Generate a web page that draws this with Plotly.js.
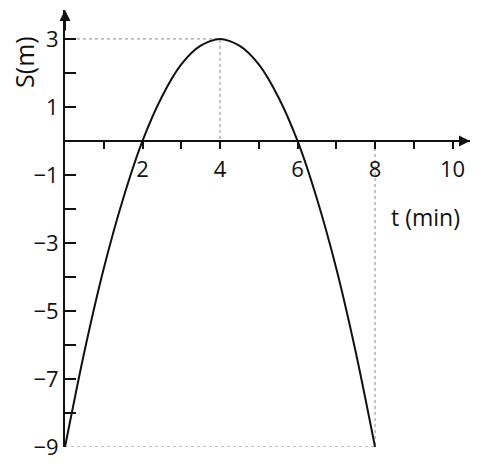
<!DOCTYPE html>
<html>
<head>
<meta charset="utf-8">
<script src="https://cdn.plot.ly/plotly-3.0.1.min.js"></script>
<style>
  body { margin: 0; background: #fff; }
  #chart { width: 500px; height: 467px; }
</style>
</head>
<body>
<div id="chart"></div>
<script>
// values, every half minute
const tValues = [0, 0.5, 1, 1.5, 2, 2.5, 3, 3.5, 4, 4.5, 5, 5.5, 6, 6.5, 7, 7.5, 8];
const sValues = [-9, -6.2, -3.75, -1.7, 0, 1.3, 2.25, 2.8, 3, 2.8, 2.25, 1.3, 0, -1.7, -3.75, -6.2, -9];

const peak = { t: 4, s: 3 };
const endPoint = { t: 8, s: -9 };

const xTicks = [1, 2, 3, 4, 5, 6, 7, 8, 9, 10];
const xTickText = ['', '2', '', '4', '', '6', '', '8', '', '10'];
const yTicks = [-9, -8, -7, -6, -5, -4, -3, -2, -1, 1, 2, 3];
const yTickText = ['\u22129', '', '\u22127', '', '\u22125', '', '\u22123', '', '\u22121', '1', '', '3'];

const xRange = [0, 10.45];
const yRange = [-9, 3.85];

const font = 'Open Sans, Noto Sans, DejaVu Sans, sans-serif';

const guide = {
  mode: 'lines',
  line: { color: '#888', width: 1, dash: 'dot' },
  hoverinfo: 'skip',
  cliponaxis: false,
};

const data = [
  Object.assign({}, guide, {
    x: [0, peak.t, peak.t],
    y: [peak.s, peak.s, 0],
  }),
  Object.assign({}, guide, {
    x: [0, endPoint.t, endPoint.t],
    y: [endPoint.s, endPoint.s, 0],
  }),
  {
    x: tValues,
    y: sValues,
    mode: 'lines',
    line: { color: '#111', width: 2, shape: 'spline', smoothing: 0.8 },
    cliponaxis: false,
  },
];

const layout = {
  width: 500,
  height: 467,
  margin: { l: 65, r: 30, t: 10, b: 20 },
  showlegend: false,
  paper_bgcolor: '#fff',
  plot_bgcolor: '#fff',
  font: { family: font, size: 22, color: '#111' },
  xaxis: {
    range: xRange,
    anchor: 'free',
    position: (0 - yRange[0]) / (yRange[1] - yRange[0]),
    showgrid: false,
    zeroline: false,
    showline: true,
    linecolor: '#111',
    linewidth: 2,
    ticks: 'outside',
    ticklen: 7,
    tickwidth: 2,
    tickcolor: '#111',
    tickmode: 'array',
    tickvals: xTicks,
    ticktext: xTickText,
    ticklabelstandoff: 2,
    automargin: false,
  },
  yaxis: {
    range: yRange,
    showgrid: false,
    zeroline: false,
    showline: true,
    linecolor: '#111',
    linewidth: 2,
    ticks: 'inside',
    ticklen: 11,
    tickwidth: 2,
    tickcolor: '#111',
    tickmode: 'array',
    tickvals: yTicks,
    ticktext: yTickText,
    automargin: false,
  },
  annotations: [
    {
      xref: 'x', yref: 'y', x: xRange[1], y: 0,
      ax: -22, ay: 0, text: '', showarrow: true,
      arrowhead: 2, arrowsize: 1.1, arrowwidth: 2, arrowcolor: '#111', standoff: 0,
    },
    {
      xref: 'x', yref: 'y', x: 0, y: yRange[1],
      ax: 0, ay: 22, text: '', showarrow: true,
      arrowhead: 2, arrowsize: 1.1, arrowwidth: 2, arrowcolor: '#111', standoff: 0,
    },
    {
      xref: 'paper', yref: 'paper', x: -0.1, y: 0.88,
      xanchor: 'center', yanchor: 'middle',
      text: 'S(m)', textangle: -90, showarrow: false,
      font: { family: font, size: 25, color: '#111' },
    },
    {
      xref: 'paper', yref: 'paper', x: 0.891, y: 0.526,
      xanchor: 'center', yanchor: 'middle',
      text: 't (min)', showarrow: false,
      font: { family: font, size: 23, color: '#111' },
    },
  ],
};

Plotly.newPlot('chart', data, layout, { staticPlot: true });
</script>
</body>
</html>
